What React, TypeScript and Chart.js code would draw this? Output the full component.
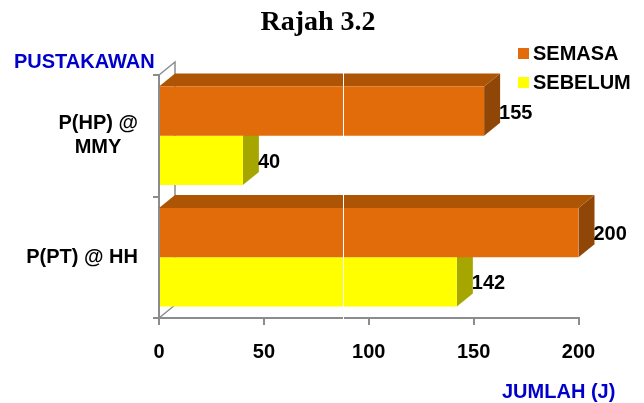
import React, { useEffect, useRef } from "react";
import { Chart, registerables } from "chart.js";

Chart.register(...registerables);

const categories = [["P(HP) @", "MMY"], ["P(PT) @ HH"]];
const semasaValues = [155, 200];
const sebelumValues = [40, 142];
const xTicks = { min: 0, max: 200, step: 50 };
const seriesNames = ["SEMASA", "SEBELUM"];
const yAxisName = "PUSTAKAWAN";
const xAxisName = "JUMLAH (J)";
const chartTitle = "Rajah 3.2";

const ORANGE = "#E36C0A";
const ORANGE_TOP = "#AD5505";
const ORANGE_SIDE = "#8F4607";
const YELLOW = "#FFFF00";
const YELLOW_SIDE = "#A6A600";
const AXIS = "#8C8C8C";
const BLUE = "#0000CC";
const DX = 16;
const DY = 13;
const FONT = '"Liberation Sans", Arial, sans-serif';
const LABEL_FONT = `bold 20px ${FONT}`;

function poly(ctx: CanvasRenderingContext2D, pts: number[][], fill: string) {
  ctx.fillStyle = fill;
  ctx.beginPath();
  pts.forEach((p, i) => (i ? ctx.lineTo(p[0], p[1]) : ctx.moveTo(p[0], p[1])));
  ctx.closePath();
  ctx.fill();
}

const faces3d = {
  id: "faces3d",
  beforeDatasetsDraw(chart: any) {
    const { ctx, chartArea: a } = chart;
    ctx.save();
    // back wall edges
    ctx.strokeStyle = AXIS;
    ctx.lineWidth = 1.5;
    ctx.beginPath();
    ctx.moveTo(a.left, a.top);
    ctx.lineTo(a.left + DX, a.top - DY);
    ctx.lineTo(a.left + DX, a.bottom - DY);
    ctx.lineTo(a.left, a.bottom);
    ctx.stroke();
    [1, 0].forEach((d) => {
      const sideCol = d === 0 ? ORANGE_SIDE : YELLOW_SIDE;
      chart.getDatasetMeta(d).data.forEach((bar: any) => {
        const h = bar.height / 2;
        const t = bar.y - h;
        const b = bar.y + h;
        poly(ctx, [[bar.x, t], [bar.x + DX, t - DY], [bar.x + DX, b - DY], [bar.x, b]], sideCol);
        if (d === 0) {
          poly(ctx, [[a.left, t], [a.left + DX, t - DY], [bar.x + DX, t - DY], [bar.x, t]], ORANGE_TOP);
        }
      });
    });
    ctx.restore();
  },
  afterDraw(chart: any) {
    const { ctx, chartArea: a } = chart;
    ctx.save();
    // pale seam crossing the picture
    ctx.fillStyle = "#FFFFFF";
    ctx.fillRect(343, a.top - 3, 1, a.bottom - a.top + 6);

    // value labels
    ctx.font = LABEL_FONT;
    ctx.fillStyle = "#000000";
    ctx.textAlign = "left";
    ctx.textBaseline = "middle";
    [0, 1].forEach((d) => {
      const values = chart.data.datasets[d].data;
      chart.getDatasetMeta(d).data.forEach((bar: any, i: number) => {
        ctx.fillText(String(values[i]), bar.x + DX - 1, bar.y + 2);
      });
    });

    // legend
    chart.data.datasets.forEach((ds: any, i: number) => {
      const y = 48 + i * 29;
      ctx.fillStyle = ds.backgroundColor;
      ctx.fillRect(518, y, 11, 11);
      ctx.fillStyle = "#000000";
      ctx.font = LABEL_FONT;
      ctx.fillText(ds.label, 533, y + 6);
    });

    // axis names
    ctx.fillStyle = BLUE;
    ctx.fillText(yAxisName, 14, 62);
    ctx.fillText(xAxisName, 502, 392);

    // title
    ctx.fillStyle = "#000000";
    ctx.font = 'bold 28px "Liberation Serif", serif';
    ctx.textAlign = "center";
    ctx.fillText(chartTitle, 318, 23);
    ctx.restore();
  },
};

export default function App() {
  const ref = useRef<HTMLCanvasElement>(null);
  useEffect(() => {
    const chart = new Chart(ref.current as HTMLCanvasElement, {
      type: "bar",
      plugins: [faces3d],
      data: {
        labels: categories as any,
        datasets: [
          { label: seriesNames[0], data: semasaValues, backgroundColor: ORANGE, borderWidth: 0 },
          { label: seriesNames[1], data: sebelumValues, backgroundColor: YELLOW, borderWidth: 0 },
        ],
      },
      options: {
        indexAxis: "y",
        responsive: false,
        animation: false,
        devicePixelRatio: 1,
        layout: { padding: { top: 75, right: 65.5, left: 0, bottom: 0 } },
        categoryPercentage: 0.81,
        barPercentage: 1,
        plugins: {
          legend: { display: false },
          title: { display: false },
          tooltip: { enabled: false },
        },
        scales: {
          x: {
            min: xTicks.min,
            max: xTicks.max,
            ticks: {
              stepSize: xTicks.step,
              color: "#000000",
              font: { family: FONT, size: 20, weight: "bold" },
              padding: 15,
              maxRotation: 0,
            },
            grid: { drawOnChartArea: false, color: AXIS, tickLength: 7, lineWidth: 2 },
            border: { color: AXIS, width: 2 },
            afterFit: (s: any) => {
              s.height = 85;
            },
          },
          y: {
            ticks: {
              autoSkip: false,
              color: "#000000",
              font: { family: FONT, size: 20, weight: "bold" },
              padding: 15,
              // centres a shorter second line under the first
              callback: function (this: any, _v: any, i: number) {
                const lines = categories[i];
                return lines.length > 1 ? [lines[0], lines[1] + "\u00A0\u00A0\u00A0"] : lines[0];
              },
            },
            grid: { drawOnChartArea: false, color: AXIS, tickLength: 6, lineWidth: 2 },
            border: { color: AXIS, width: 2 },
            afterFit: (s: any) => {
              s.width = 159;
            },
          },
        },
      } as any,
    });
    return () => chart.destroy();
  }, []);
  return (
    <div style={{ position: "absolute", left: 0, top: 0, width: 644, height: 403, background: "#fff" }}>
      <canvas ref={ref} width={644} height={403} style={{ display: "block" }} />
    </div>
  );
}
